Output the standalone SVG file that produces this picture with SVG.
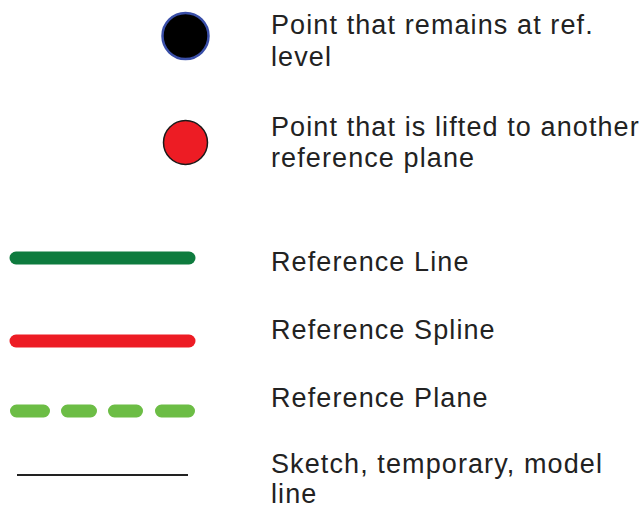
<svg xmlns="http://www.w3.org/2000/svg" width="643" height="508" viewBox="0 0 643 508">
<style>
.t{font-family:"Liberation Sans",Arial,sans-serif;font-size:27px;fill:#222222;letter-spacing:1.1px}
.thick{stroke-width:13;stroke-linecap:round;fill:none}
</style>
<rect width="643" height="508" fill="#ffffff"/>
<g id="point-ref">
<circle cx="185.5" cy="36" r="23" fill="#000000" stroke="#3a4fa8" stroke-width="2.5"/>
<text class="t" x="271" y="34">Point that remains at ref.</text>
<text class="t" x="271" y="66">level</text>
</g>
<g id="point-lifted">
<circle cx="185.5" cy="142.5" r="22" fill="#ed1c24" stroke="#1a1a1a" stroke-width="1.5"/>
<text class="t" x="271" y="136">Point that is lifted to another</text>
<text class="t" x="271" y="167">reference plane</text>
</g>
<g id="reference-line">
<line x1="16" y1="258" x2="189" y2="258" class="thick" stroke="#0e7b3e"/>
<text class="t" x="271" y="271">Reference Line</text>
</g>
<g id="reference-spline">
<line x1="16" y1="341" x2="189" y2="341" class="thick" stroke="#ed1c24"/>
<text class="t" x="271" y="339">Reference Spline</text>
</g>
<g id="reference-plane">
<path d="M16.5 411H43.5M67.5 411H90.5M114.5 411H136.5M161.5 411H188.5" class="thick" stroke="#6cbd45"/>
<text class="t" x="271" y="407">Reference Plane</text>
</g>
<g id="sketch-line">
<line x1="17" y1="475" x2="188" y2="475" stroke="#222222" stroke-width="2"/>
<text class="t" x="271" y="473">Sketch, temporary, model</text>
<text class="t" x="271" y="503">line</text>
</g>
</svg>
